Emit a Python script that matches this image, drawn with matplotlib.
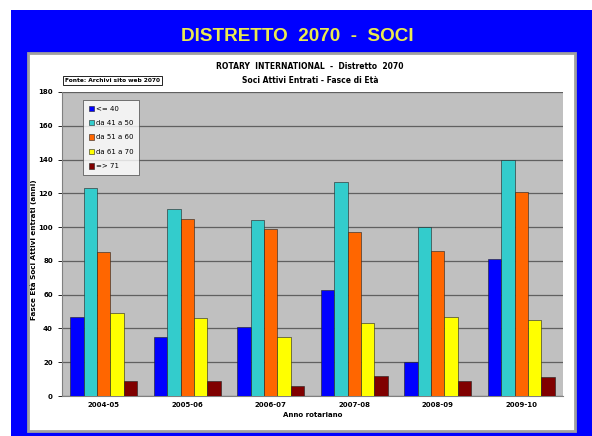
import numpy as np
import matplotlib.pyplot as plt
from matplotlib.patches import Rectangle

# Data
years = ['2004-05', '2005-06', '2006-07', '2007-08', '2008-09', '2009-10']
fasce = ['<= 40', 'da 41 a 50', 'da 51 a 60', 'da 61 a 70', '=> 71']
fino_40 = [47, 35, 41, 63, 20, 81]
da_41_50 = [123, 111, 104, 127, 100, 140]
da_51_60 = [85, 105, 99, 97, 86, 121]
da_61_70 = [49, 46, 35, 43, 47, 45]
oltre_71 = [9, 9, 6, 12, 9, 11]
colors = ['#0000ff', '#33cccc', '#ff6600', '#ffff00', '#800000']

plt.rcParams['font.family'] = ['Liberation Sans Narrow', 'DejaVu Sans']

fig = plt.figure(figsize=(5.92, 4.36), dpi=100)
fig.patch.set_facecolor('white')

# blue slide background and white chart panel
fig.patches.append(Rectangle((0.0186, 0), 0.99, 0.977, transform=fig.transFigure,
                             facecolor='#0000ff', edgecolor='none', zorder=-2))
fig.patches.append(Rectangle((0.047, 0.0115), 0.924, 0.867, transform=fig.transFigure,
                             facecolor='white', edgecolor='#a0a0a0', linewidth=2, zorder=-1))

fig.text(0.502, 0.917, 'DISTRETTO  2070  -  SOCI', color='#eaea50', fontsize=13.6,
         fontweight='bold', ha='center', va='center', family='Liberation Sans')
fig.text(0.524, 0.847, 'ROTARY  INTERNATIONAL  -  Distretto  2070', fontsize=5.5,
         fontweight='bold', ha='center', va='center')
fig.text(0.524, 0.816, 'Soci Attivi Entrati - Fasce di Età', fontsize=5.5,
         fontweight='bold', ha='center', va='center')
fig.text(0.11, 0.815, 'Fonte: Archivi sito web 2070', fontsize=4.2, fontweight='bold',
         ha='left', va='center',
         bbox=dict(boxstyle='square,pad=0.35', facecolor='white', edgecolor='black', linewidth=0.6))

ax = fig.add_axes([0.1047, 0.0917, 0.8463, 0.6973])
ax.set_facecolor('#c0c0c0')

series = [fino_40, da_41_50, da_51_60, da_61_70, oltre_71]
x = np.arange(len(years))
w = 0.16
for i, (vals, c, lab) in enumerate(zip(series, colors, fasce)):
    ax.bar(x + (i - 2) * w, vals, w, color=c, edgecolor='#202020', linewidth=0.4,
           label=lab, zorder=3)

ax.set_xlim(-0.5, len(years) - 0.5)
ax.set_ylim(0, 180)
ax.set_yticks(np.arange(0, 181, 20))
ax.yaxis.grid(True, color='#606060', linewidth=0.9, zorder=1)
ax.set_axisbelow(True)
ax.set_xticks(x)
ax.set_xticklabels(years, fontsize=5, fontweight='bold')
ax.tick_params(axis='y', labelsize=5, length=3, width=0.6)
ax.tick_params(axis='x', length=0, pad=4)
for lab in ax.get_yticklabels():
    lab.set_fontweight('bold')
for s in ['top', 'right']:
    ax.spines[s].set_visible(False)
ax.spines['left'].set_color('#808080')
ax.spines['bottom'].set_color('#808080')

ax.set_xlabel('Anno rotariano', fontsize=5, fontweight='bold', labelpad=3)
ax.set_ylabel('Fasce Età Soci Attivi entrati (anni)', fontsize=5.2, fontweight='bold')
ax.yaxis.set_label_coords(-0.05, 0.48)

leg = ax.legend(loc='upper left', bbox_to_anchor=(0.035, 0.985), fontsize=5,
                frameon=True, fancybox=False, handlelength=0.8, handleheight=0.8,
                borderpad=0.8, labelspacing=1.2, handletextpad=0.3)
leg.get_frame().set_edgecolor('#404040')
leg.get_frame().set_linewidth(0.6)

fig.savefig('out.png', dpi=100)
